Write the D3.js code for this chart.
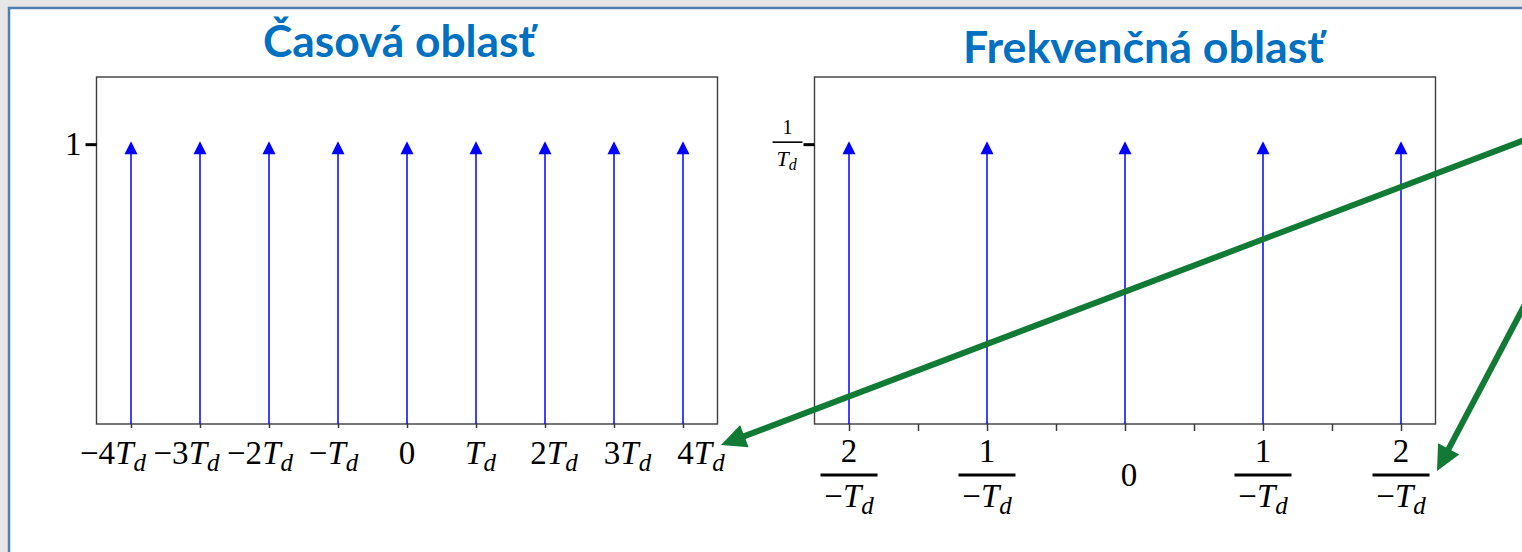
<!DOCTYPE html>
<html>
<head>
<meta charset="utf-8">
<script src="https://cdn.jsdelivr.net/npm/d3@7/dist/d3.min.js"></script>
<style>
  html, body { margin: 0; padding: 0; background: #e6e6e6; }
  svg { display: block; }
</style>
</head>
<body>
<svg id="chart" width="1522" height="552"></svg>
<script>
// ---- data ----
const timeTitle = "Časová oblasť";
const freqTitle = "Frekvenčná oblasť";

// impulse train in time: sample index k (multiples of T_d) and impulse weights
const timeK = [-4, -3, -2, -1, 0, 1, 2, 3, 4];
const timeWeights = [1, 1, 1, 1, 1, 1, 1, 1, 1];
// coefficient written in front of T_d for each tick label
const timeCoef = ["−4", "−3", "−2", "−", "0", "", "2", "3", "4"];

// spectrum: line index n (multiples of 1/T_d) and line weights (in units of 1/T_d)
const freqN = [-2, -1, 0, 1, 2];
const freqWeights = [1, 1, 1, 1, 1];
const freqMinorTicks = [-2, -1.5, -1, -0.5, 0, 0.5, 1, 1.5, 2];
const freqNumer = ["2", "1", "0", "1", "2"];

const yTickValue = 1;

// ---- layout ----
const svg = d3.select("#chart");
const W = 1522, H = 552;
const stemColor = "#0000ff";
const frameColor = "#3c3c3c";
const titleColor = "#0070c0";
const arrowColor = "#117a34";
const mathFont = "'Liberation Serif', 'Times New Roman', serif";

// slide panel
svg.append("rect")
  .attr("x", 9).attr("y", 8).attr("width", W + 40).attr("height", H + 40)
  .attr("fill", "#ffffff").attr("stroke", "#4f7fae").attr("stroke-width", 2.5);

const plotTop = 77, plotBottom = 424;

const y = d3.scaleLinear().domain([0, 1.24]).range([plotBottom, plotTop]);

const xTime = d3.scaleLinear().domain([-4.5, 4.5]).range([96.5, 717.5]);
const xFreq = d3.scaleLinear().domain([-2.25, 2.25]).range([814.5, 1435.5]);
// the time labels are set as a text row that runs a little wider than the ticks
const xTimeLabel = d3.scaleLinear().domain([-4, 4]).range([xTime(-4) - 18, xTime(4) + 18]);

function title(text, cx, baseline, width) {
  svg.append("text")
    .attr("x", cx).attr("y", baseline)
    .attr("text-anchor", "middle")
    .attr("font-family", "Lato, 'Open Sans', sans-serif")
    .attr("font-weight", 700)
    .attr("font-size", 44)
    .attr("fill", titleColor)
    .attr("textLength", width)
    .attr("lengthAdjust", "spacingAndGlyphs")
    .text(text);
}
title(timeTitle, 399, 57, 272);
title(freqTitle, 1143.5, 63, 361);

// frames
function frame(x) {
  svg.append("rect")
    .attr("x", x.range()[0]).attr("y", plotTop)
    .attr("width", x.range()[1] - x.range()[0]).attr("height", plotBottom - plotTop)
    .attr("fill", "none").attr("stroke", frameColor).attr("stroke-width", 1.4);
}
frame(xTime);
frame(xFreq);

// bottom tick marks through d3 axes (labels drawn separately as math text)
svg.append("g")
  .attr("transform", `translate(0,${plotBottom})`)
  .call(d3.axisBottom(xTime).tickValues(timeK).tickSize(4).tickSizeOuter(0).tickFormat(""))
  .call(g => g.select(".domain").remove())
  .call(g => g.selectAll(".tick line").attr("stroke", frameColor).attr("stroke-width", 1.5));

svg.append("g")
  .attr("transform", `translate(0,${plotBottom})`)
  .call(d3.axisBottom(xFreq).tickValues(freqMinorTicks).tickSize(7).tickSizeOuter(0).tickFormat(""))
  .call(g => g.select(".domain").remove())
  .call(g => g.selectAll(".tick line").attr("stroke", frameColor).attr("stroke-width", 1.5));

// y ticks at the unit level
function yTick(x0) {
  svg.append("g")
    .attr("transform", `translate(${x0},0)`)
    .call(d3.axisLeft(y).tickValues([yTickValue]).tickSize(11).tickSizeOuter(0).tickFormat(""))
    .call(g => g.select(".domain").remove())
    .call(g => g.selectAll(".tick line").attr("stroke", "#000").attr("stroke-width", 3));
}
yTick(xTime.range()[0]);
yTick(xFreq.range()[0]);

// "1" label on the time plot
svg.append("text")
  .attr("x", xTime.range()[0] - 15).attr("y", y(yTickValue) + 11)
  .attr("text-anchor", "end")
  .attr("font-family", mathFont).attr("font-size", 33)
  .text("1");

// "1/T_d" label on the frequency plot
{
  const cx = xFreq.range()[0] - 27, cy = y(yTickValue) - 2;
  const g = svg.append("g").attr("font-family", mathFont).attr("text-anchor", "middle");
  g.append("text").attr("x", cx).attr("y", cy - 8).attr("font-size", 20).text("1");
  g.append("line").attr("x1", cx - 15).attr("x2", cx + 15).attr("y1", cy).attr("y2", cy)
    .attr("stroke", "#000").attr("stroke-width", 1.6);
  const t = g.append("text").attr("x", cx - 1).attr("y", cy + 24).attr("font-size", 22).attr("font-style", "italic");
  t.append("tspan").text("T");
  t.append("tspan").attr("font-size", 16).attr("dy", 4).text("d");
}

// stems with triangle heads
function stems(x, ks, ws) {
  const data = ks.map((k, i) => ({ k, w: ws[i] }));
  const g = svg.append("g");
  g.selectAll("line").data(data).join("line")
    .attr("x1", d => x(d.k)).attr("x2", d => x(d.k))
    .attr("y1", y(0)).attr("y2", d => y(d.w) + 9)
    .attr("stroke", stemColor).attr("stroke-width", 1.5);
  g.selectAll("path").data(data).join("path")
    .attr("d", d => {
      const cx = x(d.k), ty = y(d.w) - 3;
      return `M${cx},${ty} L${cx + 6.5},${ty + 13} L${cx - 6.5},${ty + 13} Z`;
    })
    .attr("fill", stemColor);
}
stems(xTime, timeK, timeWeights);
stems(xFreq, freqN, freqWeights);

// time-axis labels: coefficient + italic T with subscript d
const labelBase = 464;
timeK.forEach((k, i) => {
  const t = svg.append("text")
    .attr("x", xTimeLabel(k)).attr("y", labelBase)
    .attr("text-anchor", "middle")
    .attr("font-family", mathFont).attr("font-size", 33);
  t.append("tspan").text(timeCoef[i]);
  if (k !== 0) {
    t.append("tspan").attr("font-style", "italic").text("T");
    t.append("tspan").attr("font-style", "italic").attr("font-size", 25).attr("dy", 7).text("d");
  }
});

// frequency-axis labels: fractions over −T_d, plain 0 at the origin
freqN.forEach((n, i) => {
  const cx = xFreq(n);
  const g = svg.append("g").attr("font-family", mathFont).attr("text-anchor", "middle");
  if (n === 0) {
    g.append("text").attr("x", cx + 4).attr("y", 486).attr("font-size", 33).text(freqNumer[i]);
    return;
  }
  g.append("text").attr("x", cx).attr("y", 462).attr("font-size", 33).text(freqNumer[i]);
  g.append("line").attr("x1", cx - 28.5).attr("x2", cx + 28.5).attr("y1", 475).attr("y2", 475)
    .attr("stroke", "#000").attr("stroke-width", 3);
  const t = g.append("text").attr("x", cx).attr("y", 507).attr("font-size", 33);
  t.append("tspan").text("−");
  t.append("tspan").attr("font-style", "italic").text("T");
  t.append("tspan").attr("font-style", "italic").attr("font-size", 25).attr("dy", 7).text("d");
});

// green callout arrows
function arrow(x1, y1, x2, y2) {
  const len = Math.hypot(x2 - x1, y2 - y1);
  const ux = (x2 - x1) / len, uy = (y2 - y1) / len;
  const headL = 25, headW = 12;
  const bx = x2 - ux * headL, by = y2 - uy * headL;
  svg.append("line")
    .attr("x1", x1).attr("y1", y1).attr("x2", bx + ux * 2).attr("y2", by + uy * 2)
    .attr("stroke", arrowColor).attr("stroke-width", 6);
  svg.append("path")
    .attr("d", `M${x2},${y2} L${bx - uy * headW},${by + ux * headW} L${bx + uy * headW},${by - ux * headW} Z`)
    .attr("fill", arrowColor);
}
arrow(1545, 132.3, 721, 445);
arrow(1545, 266.4, 1437, 471);
</script>
</body>
</html>
